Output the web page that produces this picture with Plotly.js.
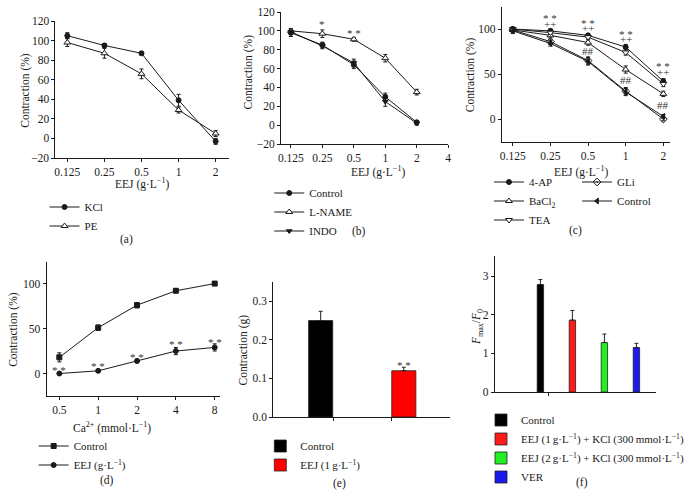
<!DOCTYPE html>
<html><head><meta charset="utf-8">
<script src="https://cdn.plot.ly/plotly-3.0.1.min.js"></script>
<style>html,body{margin:0;padding:0;background:#fff}#chart{width:689px;height:494px}</style>
</head><body><div id="chart"></div>
<script>
const W = 689, H = 494;
// ---------- Panel (a) ----------
const aDoses = ['0.125', '0.25', '0.5', '1', '2'];
const aKCl = [105, 95, 87, 39, -3];
const aKClErr = [3, 2, 1.5, 6, 3];
const aPE = [98, 87, 66, 29, 5];
const aPEErr = [4, 5, 5, 3, 3];
// ---------- Panel (b) ----------
const bDoses = ['0.125', '0.25', '0.5', '1', '2', '4'];
const bControl = [98, 85, 64, 30, 3];
const bControlErr = [4, 3, 4, 4, 2];
const bLNAME = [100, 97, 91, 71, 35];
const bLNAMEErr = [2, 4, 2, 4, 3];
const bINDO = [99, 84, 66, 25, 2];
const bINDOErr = [3, 3, 4, 5, 2];
const bSigX = ['0.25', '0.5'];
const bSigY = [107, 98];
const bSigText = ['*', '* *'];
// ---------- Panel (c) ----------
const cDoses = ['0.125', '0.25', '0.5', '1', '2'];
const c4AP = [100, 98, 93, 80, 42];
const c4APErr = [2, 2, 2, 3, 3];
const cBaCl2 = [99, 93, 85, 55, 28];
const cBaCl2Err = [2, 2, 3, 4, 3];
const cTEA = [100, 96, 91, 74, 39];
const cTEAErr = [2, 2, 2, 3, 3];
const cGLi = [99, 86, 65, 31, 0];
const cGLiErr = [2, 3, 4, 4, 2];
const cControl = [98, 84, 64, 30, 3];
const cControlErr = [3, 3, 4, 4, 2];
const cSigX = ['0.25', '0.25', '0.5', '0.5', '0.5', '1', '1', '1', '2', '2', '2'];
const cSigY = [112, 105.5, 107, 101.5, 76, 94, 89, 43, 59, 52.6, 16];
const cSigText = ['* *', '++', '* *', '++', '##', '* *', '++', '##', '* *', '++', '##'];
// ---------- Panel (d) ----------
const dCa = ['0.5', '1', '2', '4', '8'];
const dControl = [18, 51, 76, 92, 100];
const dControlErr = [5, 3, 3, 2, 1];
const dEEJ = [0, 3, 14, 25, 29];
const dEEJErr = [1, 1, 2, 4, 4];
const dSigText = ['* *', '* *', '* *', '* *', '* *'];
const dSigY = [3.6, 8, 18.3, 32.8, 34.8];
// ---------- Panel (e) ----------
const eGroups = ['Control', 'EEJ (1\u2009g·L<sup>−1</sup>)'];
const eValues = [0.25, 0.12];
const eErr = [0.024, 0.009];
const eColors = ['#000000', '#ff0000'];
const eSigText = ['', '* *'];
const eSigY = [null, 0.134];
// ---------- Panel (f) ----------
const fGroups = ['Control', 'EEJ (1\u2009g·L<sup>−1</sup>) + KCl (300\u2009mmol·L<sup>−1</sup>)',
                 'EEJ (2\u2009g·L<sup>−1</sup>) + KCl (300\u2009mmol·L<sup>−1</sup>)', 'VER'];
const fValues = [2.78, 1.86, 1.28, 1.15];
const fErr = [0.13, 0.25, 0.22, 0.11];
const fColors = ['#000000', '#ff1a1a', '#22ee22', '#1a1aee'];

// ---------- helpers ----------
const FONT = 'Liberation Serif, Times New Roman, serif';
const INK = '#1a1a1a';
const px = v => v / W;
const py = v => 1 - v / H;
const idx = arr => arr.map((_, i) => i);
const pos = (cats, c) => cats.indexOf(c);

function lineTrace(name, cats, ys, err, sym, filled, xa, ya, leg, size) {
  return {
    type: 'scatter', mode: 'lines+markers', name: name,
    x: idx(ys), y: ys, xaxis: xa, yaxis: ya, legend: leg,
    line: {color: INK, width: 1},
    marker: {symbol: sym, size: size || 5, color: filled ? INK : '#ffffff', line: {color: INK, width: 1}},
    error_y: {type: 'data', array: err, visible: true, color: INK, thickness: 1, width: 2},
    hoverinfo: 'skip'
  };
}
function barTrace(name, i, v, e, col, xa, ya, leg, width) {
  return {
    type: 'bar', name: name, x: [i], y: [v], xaxis: xa, yaxis: ya, legend: leg,
    width: width, marker: {color: col, line: {color: '#222', width: 0.8}},
    error_y: {type: 'data', array: [e], arrayminus: [0], symmetric: false, visible: true, color: '#222', thickness: 1, width: 2},
    hoverinfo: 'skip'
  };
}
function xAxis(x0, x1, range, cats, anchor, showLabels, tickvals) {
  return {
    domain: [px(x0), px(x1)], anchor: anchor, range: range, type: 'linear',
    tickmode: 'array', tickvals: tickvals || idx(cats), ticktext: showLabels ? cats : (tickvals || cats).map(() => ' '),
    showline: true, linecolor: INK, linewidth: 1, ticks: 'outside', ticklen: 3, tickcolor: INK,
    showgrid: false, zeroline: false, tickfont: {family: FONT, size: 11.5, color: INK}, fixedrange: true
  };
}
function yAxis(y0, y1, range, dtick, anchor, fmt) {
  return {
    domain: [py(y1), py(y0)], anchor: anchor, range: range, dtick: dtick, tick0: 0,
    showline: true, linecolor: INK, linewidth: 1, ticks: 'outside', ticklen: 3, tickcolor: INK,
    showgrid: false, zeroline: false, tickfont: {family: FONT, size: 11.5, color: INK},
    tickformat: fmt || '', fixedrange: true
  };
}
function legendAt(xp, yp) {
  return {x: px(xp), y: py(yp), xanchor: 'left', yanchor: 'top', bgcolor: 'rgba(0,0,0,0)',
          font: {family: FONT, size: 11, color: INK}, tracegroupgap: 0, itemclick: false, itemdoubleclick: false};
}
function txt(text, x, y, opts) {
  return Object.assign({text: text, x: px(x), y: py(y), xref: 'paper', yref: 'paper', showarrow: false,
    xanchor: 'center', yanchor: 'middle', font: {family: FONT, size: 11.5, color: INK}}, opts || {});
}
const sigFont = {family: FONT, size: 11, color: '#333333'};

const traces = [];
// (a)
traces.push(lineTrace('KCl', aDoses, aKCl, aKClErr, 'circle', true, 'x', 'y', 'legend', 5));
traces.push(lineTrace('PE', aDoses, aPE, aPEErr, 'triangle-up', false, 'x', 'y', 'legend', 6));
// (b)
traces.push(lineTrace('Control', bDoses, bControl, bControlErr, 'circle', true, 'x2', 'y2', 'legend2', 5));
traces.push(lineTrace('L-NAME', bDoses, bLNAME, bLNAMEErr, 'triangle-up', false, 'x2', 'y2', 'legend2', 6));
traces.push(lineTrace('INDO', bDoses, bINDO, bINDOErr, 'triangle-down', true, 'x2', 'y2', 'legend2', 5));
// (c)
traces.push(lineTrace('4-AP', cDoses, c4AP, c4APErr, 'circle', true, 'x3', 'y3', 'legend3', 5));
traces.push(lineTrace('BaCl<sub>2</sub>', cDoses, cBaCl2, cBaCl2Err, 'triangle-up', false, 'x3', 'y3', 'legend3', 6));
traces.push(lineTrace('TEA', cDoses, cTEA, cTEAErr, 'triangle-down', false, 'x3', 'y3', 'legend3', 6));
traces.push(lineTrace('GLi', cDoses, cGLi, cGLiErr, 'diamond-open-dot', true, 'x3', 'y3', 'legend4', 6));
traces.push(lineTrace('Control', cDoses, cControl, cControlErr, 'triangle-left', true, 'x3', 'y3', 'legend4', 5));
// (d)
traces.push(lineTrace('Control', dCa, dControl, dControlErr, 'square', true, 'x4', 'y4', 'legend5', 5));
traces.push(lineTrace('EEJ (g·L<sup>−1</sup>)', dCa, dEEJ, dEEJErr, 'circle', true, 'x4', 'y4', 'legend5', 5));
// (e)
eGroups.forEach((g, i) => traces.push(barTrace(g, i, eValues[i], eErr[i], eColors[i], 'x5', 'y5', 'legend6', 0.29)));
// (f)
fGroups.forEach((g, i) => traces.push(barTrace(g, i, fValues[i], fErr[i], fColors[i], 'x6', 'y6', 'legend7', 0.2)));

const annotations = [];
bSigX.forEach((c, i) => annotations.push({text: bSigText[i], x: pos(bDoses, c), y: bSigY[i], xref: 'x2', yref: 'y2',
  showarrow: false, font: sigFont}));
cSigX.forEach((c, i) => annotations.push({text: cSigText[i], x: pos(cDoses, c), y: cSigY[i], xref: 'x3', yref: 'y3',
  showarrow: false, font: sigFont}));
dCa.forEach((c, i) => annotations.push({text: dSigText[i], x: i, y: dSigY[i], xref: 'x4', yref: 'y4',
  showarrow: false, font: sigFont}));
eGroups.forEach((g, i) => { if (eSigText[i]) annotations.push({text: eSigText[i], x: i, y: eSigY[i], xref: 'x5', yref: 'y5',
  showarrow: false, font: sigFont}); });

// axis titles and panel labels
const xTitleEEJ = 'EEJ (g·L<sup>−1</sup>)';
annotations.push(txt(xTitleEEJ, 143, 183));
annotations.push(txt('Contraction (%)', 25, 90, {textangle: -90}));
annotations.push(txt(xTitleEEJ, 382, 172));
annotations.push(txt('Contraction (%)', 251, 72, {textangle: -90}));
annotations.push(txt(xTitleEEJ, 587, 172));
annotations.push(txt('Contraction (%)', 475, 75, {textangle: -90}));
annotations.push(txt('Ca<sup>2+</sup> (mmol·L<sup>−1</sup>)', 113, 427));
annotations.push(txt('Contraction (%)', 13, 329, {textangle: -90}));
annotations.push(txt('Contraction (g)', 245, 350, {textangle: -90}));
annotations.push(txt('<i>F</i><sub>max</sub>/<i>F</i><sub>0</sub>', 482, 327, {textangle: -90}));
annotations.push(txt('(a)', 128, 240));
annotations.push(txt('(b)', 363, 231));
annotations.push(txt('(c)', 581, 230));
annotations.push(txt('(d)', 108, 480));
annotations.push(txt('(e)', 343, 483));
annotations.push(txt('(f)', 588, 482));

const layout = {
  width: W, height: H, margin: {l: 0, r: 0, t: 0, b: 0},
  paper_bgcolor: '#ffffff', plot_bgcolor: 'rgba(0,0,0,0)',
  barmode: 'overlay', hovermode: false, showlegend: true,
  font: {family: FONT, size: 11, color: INK},
  xaxis: xAxis(56, 231, [-0.32, 4.35], aDoses, 'y', true),
  yaxis: yAxis(21, 158, [-20, 120], 20, 'x'),
  xaxis2: xAxis(284, 453, [-0.31, 5.005], bDoses, 'y2', true),
  yaxis2: yAxis(12, 144, [-20, 120], 20, 'x2'),
  xaxis3: xAxis(507, 677, [-0.29, 4.18], cDoses, 'y3', true),
  yaxis3: yAxis(7, 142, [-25.5, 124.5], 50, 'x3'),
  xaxis4: xAxis(47, 222, [-0.33, 4.13], dCa, 'y4', true),
  yaxis4: yAxis(262, 396, [-25, 124], 50, 'x4'),
  xaxis5: xAxis(276, 455, [-0.571, 1.56], eGroups, 'y5', false, [0.155, 0.857]),
  yaxis5: yAxis(282, 417, [0, 0.35], 0.1, 'x5', '.1f'),
  xaxis6: xAxis(500, 663, [-1.42, 3.62], fGroups, 'y6', false, [0.25]),
  yaxis6: yAxis(256, 392, [0, 3.52], 1, 'x6'),
  legend: legendAt(45, 192.5),
  legend2: legendAt(272, 178.5),
  legend3: legendAt(494, 167.5),
  legend4: legendAt(583, 167.5),
  legend5: legendAt(34, 431.5),
  legend6: legendAt(263, 431.5),
  legend7: legendAt(486, 405.5),
  annotations: annotations
};

Plotly.newPlot('chart', traces, layout, {staticPlot: true, displayModeBar: false});
</script>
</body></html>
